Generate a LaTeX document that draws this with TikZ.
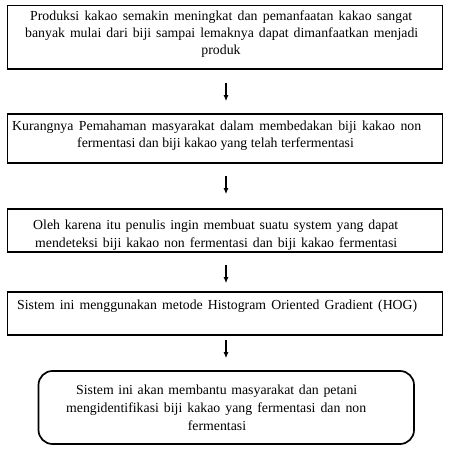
\documentclass[tikz,border=0pt]{standalone}
\usepackage{fontspec}
\setmainfont{Liberation Serif}
\usetikzlibrary{arrows.meta}
\begin{document}
\begin{tikzpicture}[x=1bp,y=-1bp,
  box/.style={draw=black,line width=1.7bp,fill=white,inner sep=0pt},
  rbox/.style={box,rounded corners=14bp},
  txt/.style={inner sep=0pt,font=\fontsize{13.8bp}{17bp}\selectfont},
  arr/.style={line width=1.1bp,-{Latex[length=6bp,width=5bp]}}]
\useasboundingbox (0,0) rectangle (461,451);
% boxes
\node[box,minimum width=435bp,minimum height=63.5bp] (b1) at (225,37.25) {};
\node[box,minimum width=435bp,minimum height=49bp] (b2) at (225,138.5) {};
\node[box,minimum width=435bp,minimum height=43bp] (b3) at (225,230.5) {};
\node[box,minimum width=435bp,minimum height=43bp] (b4) at (225,313.5) {};
\node[rbox,minimum width=375.5bp,minimum height=73bp] (b5) at (226.25,407.5) {};
% texts
\node[txt,anchor=base west] (t11) at (30,21) {\makebox[382bp][s]{Produksi kakao semakin meningkat dan pemanfaatan kakao sangat}};
\node[txt,anchor=base west] (t12) at (25,38) {\makebox[393bp][s]{banyak mulai dari biji sampai lemaknya dapat dimanfaatkan menjadi}};
\node[txt,anchor=base] (t13) at (221,55) {produk};
\node[txt,anchor=base west] (t21) at (12,131) {\makebox[409bp][s]{Kurangnya Pemahaman masyarakat dalam membedakan biji kakao non}};
\node[txt,anchor=base] (t22) at (215.5,148) {fermentasi dan biji kakao yang telah terfermentasi};
\node[txt,anchor=base west] (t31) at (33,230) {\makebox[365bp][s]{Oleh karena itu penulis ingin membuat suatu system yang dapat}};
\node[txt,anchor=base west] (t32) at (35,247) {\makebox[362bp][s]{mendeteksi biji kakao non fermentasi dan biji kakao fermentasi}};
\node[txt,anchor=base west] (t41) at (17,309) {\makebox[400bp][s]{Sistem ini menggunakan metode Histogram Oriented Gradient (HOG)}};
\node[txt,anchor=base west] (t51) at (76,394) {\makebox[281bp][s]{Sistem ini akan membantu masyarakat dan petani}};
\node[txt,anchor=base west] (t52) at (66,412) {\makebox[300bp][s]{mengidentifikasi biji kakao yang fermentasi dan non}};
\node[txt,anchor=base] (t53) at (217,430) {fermentasi};
% arrows
\draw[arr,shorten <=13bp,shorten >=12bp] ([xshift=1bp]b1.south) -- ([xshift=1bp]b2.north);
\draw[arr,shorten <=12bp,shorten >=14bp] ([xshift=1bp]b2.south) -- ([xshift=1bp]b3.north);
\draw[arr,shorten <=12bp,shorten >=8bp] ([xshift=1bp]b3.south) -- ([xshift=1bp]b4.north);
\draw[arr,shorten <=4bp,shorten >=12bp] ([xshift=1bp]b4.south) -- ([xshift=-0.25bp]b5.north);
\end{tikzpicture}
\end{document}
